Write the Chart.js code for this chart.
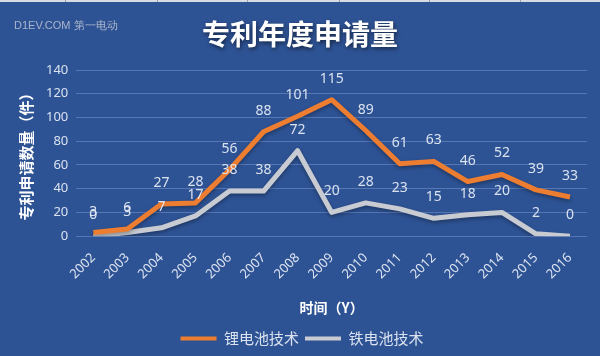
<!DOCTYPE html>
<html>
<head>
<meta charset="utf-8">
<script src="https://cdn.jsdelivr.net/npm/chart.js@4.4.1/dist/chart.umd.min.js"></script>
<style>
  html, body { margin: 0; padding: 0; background: #2e5395; }
  #wrap { width: 600px; height: 356px; position: relative; }
</style>
</head>
<body>
<div id="wrap"><canvas id="c" width="600" height="356"></canvas></div>
<script>
const years = ['2002','2003','2004','2005','2006','2007','2008','2009','2010','2011','2012','2013','2014','2015','2016'];
const lithium = [3, 6, 27, 28, 56, 88, 101, 115, 89, 61, 63, 46, 52, 39, 33];
const iron = [0, 3, 7, 17, 38, 38, 72, 20, 28, 23, 15, 18, 20, 2, 0];
const seriesNames = ['锂电池技术', '铁电池技术'];
const yTicks = [0, 20, 40, 60, 80, 100, 120, 140];
const chartTitle = '专利年度申请量';
const watermark = 'D1EV.COM 第一电动';
const yTitle = '专利申请数量（件）';
const xTitle = '时间（Y）';

const CJK = '"Noto Sans CJK SC", "Noto Sans", sans-serif';
const LABEL = 'rgba(228,234,244,0.95)';

const decor = {
  id: 'decor',
  beforeDraw(chart) {
    const ctx = chart.ctx;
    ctx.save();
    ctx.fillStyle = '#2e5395';
    ctx.fillRect(0, 0, chart.width, chart.height);
    ctx.fillStyle = '#d9dce2';
    ctx.fillRect(0, 0, chart.width, 2);
    ctx.fillStyle = '#9aa3b0';
    [65, 157, 247, 339, 429, 520].forEach(x => ctx.fillRect(x, 0, 1, 2));
    ctx.font = '11px "Liberation Sans Narrow", "Liberation Sans", sans-serif';
    ctx.fillStyle = 'rgba(190,198,212,0.85)';
    ctx.textBaseline = 'middle';
    ctx.textAlign = 'left';
    ctx.fillText(watermark, 14, 26);
    ctx.font = 'bold 28px ' + CJK;
    ctx.textAlign = 'center';
    ctx.shadowColor = 'rgba(0,0,0,0.55)';
    ctx.shadowBlur = 4;
    ctx.shadowOffsetX = 1;
    ctx.shadowOffsetY = 2;
    ctx.fillStyle = '#ffffff';
    ctx.fillText(chartTitle, 300, 34);
    ctx.restore();
  },
  beforeDatasetDraw(chart) {
    const ctx = chart.ctx;
    ctx.save();
    ctx.shadowColor = 'rgba(0,0,0,0.35)';
    ctx.shadowBlur = 4;
    ctx.shadowOffsetY = 2;
  },
  afterDatasetDraw(chart) {
    chart.ctx.restore();
  },
  afterDatasetsDraw(chart) {
    const ctx = chart.ctx;
    ctx.save();
    ctx.font = '14px "Noto Sans", sans-serif';
    ctx.fillStyle = LABEL;
    ctx.textAlign = 'center';
    ctx.textBaseline = 'middle';
    chart.data.datasets.forEach((ds, i) => {
      const meta = chart.getDatasetMeta(i);
      meta.data.forEach((pt, j) => {
        ctx.fillText(String(ds.data[j]), pt.x, pt.y - 21);
      });
    });
    ctx.restore();
  }
};

new Chart(document.getElementById('c'), {
  type: 'line',
  data: {
    labels: years,
    datasets: [
      { label: seriesNames[0], data: lithium, borderColor: '#ed7d31', backgroundColor: '#ed7d31', borderWidth: 5, pointRadius: 0, tension: 0, borderJoinStyle: 'round' },
      { label: seriesNames[1], data: iron, borderColor: '#c8cbd1', backgroundColor: '#c8cbd1', borderWidth: 5, pointRadius: 0, tension: 0, borderJoinStyle: 'round' }
    ]
  },
  options: {
    responsive: false,
    animation: false,
    layout: { padding: { top: 70, right: 13, left: 17, bottom: 0 } },
    plugins: {
      legend: {
        position: 'bottom',
        labels: {
          color: LABEL,
          font: { family: CJK, size: 15 },
          boxWidth: 36,
          boxHeight: 4,
          padding: 6,
          generateLabels(chart) {
            return chart.data.datasets.map((ds, i) => ({
              text: ds.label, fillStyle: ds.borderColor, strokeStyle: ds.borderColor,
              lineWidth: 0, hidden: false, datasetIndex: i, fontColor: LABEL
            }));
          }
        }
      },
      tooltip: { enabled: false }
    },
    scales: {
      x: {
        offset: true,
        grid: { display: false },
        border: { display: false },
        ticks: { color: LABEL, font: { family: '"Noto Sans", sans-serif', size: 13 }, minRotation: 45, maxRotation: 45, padding: 6 },
        title: { display: true, text: xTitle, color: '#ffffff', font: { family: CJK, size: 14, weight: 'bold' }, padding: { top: 11, bottom: 9 } }
      },
      y: {
        min: 0, max: 140,
        afterBuildTicks(scale) { scale.ticks = yTicks.map(v => ({ value: v })); },
        grid: { color: 'rgba(120,150,205,0.55)', lineWidth: 1, drawTicks: false },
        border: { display: false },
        ticks: { color: LABEL, font: { family: '"Noto Sans", sans-serif', size: 13 }, padding: 8 },
        title: { display: true, text: yTitle, color: '#ffffff', font: { family: CJK, size: 15, weight: 'bold' }, padding: { top: 0, bottom: 3 } }
      }
    }
  },
  plugins: [decor]
});
</script>
</body>
</html>
